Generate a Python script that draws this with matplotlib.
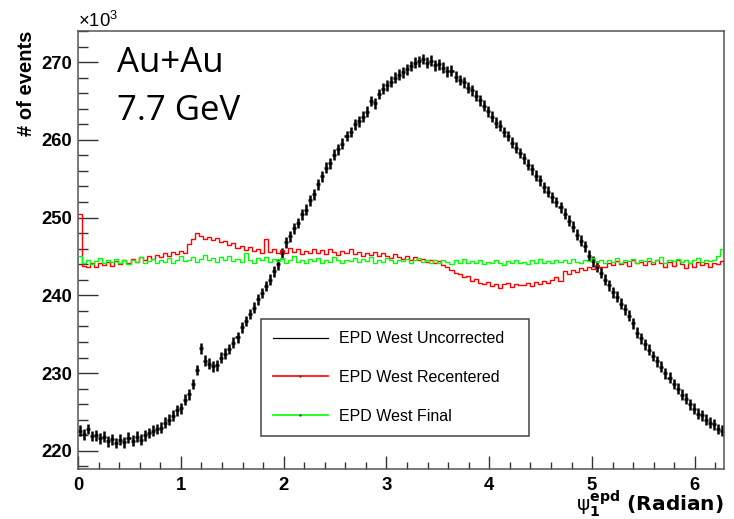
import matplotlib
matplotlib.use('Agg')
import matplotlib.pyplot as plt
import numpy as np
from matplotlib.lines import Line2D
from matplotlib.ticker import MultipleLocator

plt.rcParams['font.family'] = ['Liberation Sans', 'DejaVu Sans']
plt.rcParams['mathtext.fontset'] = 'custom'
plt.rcParams['mathtext.rm'] = 'Liberation Sans'
plt.rcParams['mathtext.bf'] = 'Liberation Sans:bold'
plt.rcParams['mathtext.it'] = 'Liberation Sans:italic'

# entries per bin, in units of 10^3 (160 bins over 0..2pi)
uncorrected = [
    222.6, 222.1, 222.8, 221.9, 222.0, 221.6, 221.8, 221.2, 221.5, 221.0,
    221.4, 221.1, 221.7, 221.3, 221.8, 221.4, 222.0, 222.3, 222.6, 222.8,
    223.0, 223.6, 224.0, 224.5, 225.2, 225.5, 226.6, 227.3, 228.6, 230.4,
    233.2, 231.6, 231.2, 230.9, 231.0, 232.0, 232.5, 233.1, 233.9, 234.6,
    235.9, 236.7, 237.6, 238.4, 239.5, 240.3, 241.2, 242.0, 243.1, 244.0,
    245.4, 246.8, 247.6, 248.6, 249.3, 250.4, 251.0, 252.2, 253.0, 254.3,
    255.3, 256.4, 257.0, 258.1, 258.8, 259.5, 260.5, 261.0, 262.0, 262.4,
    263.0, 263.6, 265.0, 264.7, 265.9, 266.6, 267.0, 267.5, 268.0, 268.4,
    268.7, 269.1, 269.5, 269.9, 270.1, 270.4, 269.9, 270.2, 269.6, 269.7,
    269.3, 268.8, 268.9, 268.1, 267.7, 267.4, 266.7, 266.4, 265.7, 265.1,
    264.4, 263.7, 263.0, 262.2, 261.8, 261.0, 260.5, 259.6, 259.0, 258.3,
    257.6, 256.8, 256.2, 255.4, 254.8, 253.9, 253.3, 252.6, 252.0, 251.3,
    250.5, 249.6, 248.8, 247.8, 247.0, 246.3, 245.1, 244.4, 243.7, 242.9,
    242.0, 241.3, 240.4, 239.8, 238.9, 238.2, 237.4, 236.4, 235.2, 234.5,
    233.7, 233.0, 232.2, 231.5, 230.8, 230.0, 229.4, 228.6, 228.0, 227.2,
    226.7, 226.0, 225.4, 224.8, 224.6, 224.0, 223.6, 223.4, 222.8, 222.6,
]
uncorrected_err = 0.7

recentered = [
    250.5, 243.8, 243.6, 244.1, 243.7, 244.2, 243.9, 244.3, 243.8, 244.4,
    244.0, 244.5, 244.2, 244.7, 244.3, 244.9, 244.6, 245.0, 244.7, 245.2,
    244.9, 245.4, 245.1, 245.6, 245.3, 245.7, 245.5, 246.6, 247.2, 248.0,
    247.6, 247.3, 247.5, 247.1, 247.4, 246.9, 247.0, 246.5, 246.7, 246.1,
    246.4, 245.8, 246.2, 245.7, 246.0, 245.4, 247.3, 245.6, 245.9, 245.5,
    245.8, 245.4, 246.1, 245.6, 245.9, 245.3, 245.7, 245.5, 246.0, 245.4,
    245.8, 245.3, 245.9, 245.6, 245.2, 245.7, 245.4, 245.9, 245.3, 245.6,
    245.1, 245.5, 245.2, 245.6, 245.0, 245.4, 245.1, 244.8, 245.3, 244.9,
    244.7, 245.1, 244.6, 244.9, 244.5, 244.7, 244.3, 244.6, 244.2, 244.4,
    243.9, 243.6, 243.2, 242.9, 242.8, 242.3, 242.5, 241.9, 242.1, 241.6,
    241.4, 241.7, 241.2, 241.5, 241.0, 241.4, 241.6, 241.1, 241.5, 241.3,
    241.3, 241.6, 241.2, 241.7, 241.5, 241.9, 241.6, 242.0, 242.3, 241.9,
    243.1, 242.8, 243.3, 243.0, 243.5, 243.2, 243.6, 243.4, 243.9, 243.6,
    243.7, 244.2, 243.9, 244.4, 244.0, 244.3, 243.8, 244.5, 244.1, 244.3,
    243.9, 244.4, 244.0, 244.6, 244.1, 243.7, 244.3, 243.8, 244.5, 244.0,
    243.5, 244.2, 243.7, 244.3, 243.9, 244.1, 243.6, 244.2, 244.0, 244.4,
]

final = [
    245.0, 244.2, 244.6, 244.0, 244.4, 244.8, 244.1, 244.5, 244.3, 244.7,
    244.2, 244.5, 244.0, 244.6, 244.3, 244.9, 244.2, 244.4, 244.7, 244.1,
    244.6, 244.3, 244.8, 244.2, 244.5, 245.0, 244.4, 244.6, 244.9, 244.3,
    244.7, 245.2, 244.5, 244.8, 244.3, 244.9, 244.6, 245.1, 244.4, 244.7,
    244.3, 245.4, 244.6, 244.2, 244.8, 244.5, 244.9, 244.3, 244.7, 244.4,
    244.8, 244.2, 244.6, 245.0, 244.3, 244.5, 244.1, 244.7, 244.4, 244.8,
    244.2, 244.6, 244.3, 244.9, 244.5, 244.1, 244.6, 244.4, 244.8, 244.3,
    244.7, 244.4, 244.9, 244.2, 244.6, 244.3, 244.8, 244.5, 244.1, 244.6,
    244.4, 244.7, 244.2, 244.5, 244.8, 244.3, 244.6, 244.1, 244.5, 244.2,
    244.6, 244.3, 244.0, 244.5, 244.2, 244.7, 244.1, 244.4, 244.2, 244.5,
    244.0, 244.3, 244.1, 244.6, 244.2, 243.9, 244.4, 244.1, 244.5, 244.2,
    244.3, 244.0, 244.5, 244.2, 244.7, 244.1, 244.4, 244.2, 244.6, 244.3,
    244.5, 244.1, 244.7, 244.3, 244.2, 244.6, 244.4, 244.8, 244.3, 244.5,
    244.2, 244.6, 244.3, 244.8, 244.1, 244.5, 244.4, 244.7, 244.2, 244.6,
    244.4, 244.8, 244.3, 244.5, 244.9, 244.2, 244.6, 244.4, 244.7, 244.3,
    244.6, 244.2, 244.5, 244.8, 244.3, 244.6, 244.4, 244.5, 245.0, 245.9,
]

labels = ['EPD West Uncorrected', 'EPD West Recentered', 'EPD West Final']

edges = np.linspace(0, 2 * np.pi, len(uncorrected) + 1)
centers = 0.5 * (edges[:-1] + edges[1:])
half_w = 0.5 * (edges[1] - edges[0])

fig = plt.figure(figsize=(7.34, 5.19), dpi=100)
ax = fig.add_axes([0.1063, 0.0969, 0.8801, 0.8434])

ax.errorbar(centers, uncorrected, xerr=half_w, yerr=uncorrected_err, fmt='none',
            ecolor='black', elinewidth=1.8, capsize=0, zorder=2)
ax.stairs(recentered, edges, baseline=None, color='#ff0000', linewidth=1.0, zorder=3)
ax.stairs(final, edges, baseline=None, color='#00ff00', linewidth=1.0, zorder=4)

ax.set_xlim(0, 2 * np.pi)
ax.set_ylim(217.7, 274.0)

ax.xaxis.set_major_locator(MultipleLocator(1))
ax.xaxis.set_minor_locator(MultipleLocator(0.2))
ax.yaxis.set_major_locator(MultipleLocator(10))
ax.yaxis.set_minor_locator(MultipleLocator(2))
ax.tick_params(which='both', direction='in', top=False, right=False, width=1.0, color='#333333')
ax.tick_params(axis='y', which='major', length=14.4, pad=4)
ax.tick_params(axis='y', which='minor', length=7.2)
ax.tick_params(axis='x', which='major', length=9.4, pad=6)
ax.tick_params(axis='x', which='minor', length=5.0)
for lab in ax.get_xticklabels() + ax.get_yticklabels():
    lab.set_fontsize(13.3)
    lab.set_fontweight('bold')

for sp in ax.spines.values():
    sp.set_color('#555555')
    sp.set_linewidth(1.1)

ax.set_ylabel('# of events', loc='top', fontsize=14.5, fontweight='bold', labelpad=4)
# x title sits right-aligned just under the tick labels, ROOT style
xt = ax.text(1.0, -0.097, r'$\mathrm{ψ}_{\mathbf{1}}^{\mathbf{epd}}$ (Radian)', transform=ax.transAxes,
             ha='right', va='baseline', fontsize=14.5, fontweight='bold', family='DejaVu Sans')
xt.set_math_fontfamily('dejavusans')

ax.annotate(r'$\times$10$^{3}$', xy=(0, 1), xycoords='axes fraction', xytext=(0, 3),
            textcoords='offset points', ha='left', va='baseline', fontsize=13.3)

ax.text(0.060, 0.906, 'Au+Au', transform=ax.transAxes, fontsize=25,
        family='Open Sans', va='baseline', ha='left')
ax.text(0.060, 0.797, '7.7 GeV', transform=ax.transAxes, fontsize=25,
        family='Open Sans', va='baseline', ha='left')

handles = [
    Line2D([], [], color='black', linewidth=0.9),
    Line2D([], [], color='#ff0000', linewidth=1.2, marker='.', markersize=1.5,
           markerfacecolor='#444444', markeredgecolor='#444444'),
    Line2D([], [], color='#00ff00', linewidth=1.2, marker='.', markersize=1.5,
           markerfacecolor='#444444', markeredgecolor='#444444'),
]
leg = ax.legend(handles, labels, loc='lower left', bbox_to_anchor=(0.2833, 0.0747, 0.4149, 0.265),
                mode='expand', borderaxespad=0, fontsize=11.5, handlelength=3.44,
                handletextpad=0.69, labelspacing=1.5, borderpad=0.75, numpoints=1,
                fancybox=False, framealpha=1)
leg.get_frame().set_edgecolor('#444444')
leg.get_frame().set_linewidth(1.1)

fig.savefig('out.png', dpi=100)
